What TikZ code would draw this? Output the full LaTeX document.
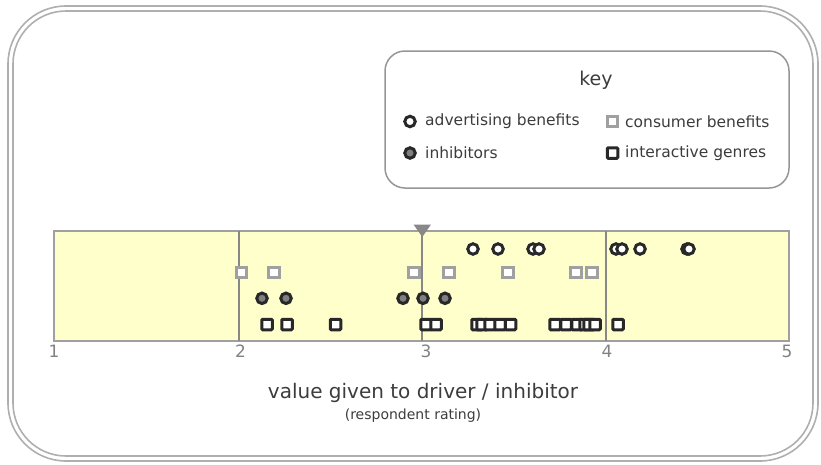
\documentclass[tikz,border=0pt]{standalone}
\usepackage{fontspec}
\setmainfont{DejaVu Sans}
\usetikzlibrary{shapes.geometric}
\definecolor{frameg}{RGB}{175,175,175}
\definecolor{boxg}{RGB}{150,150,150}
\definecolor{plotfill}{RGB}{255,255,204}
\definecolor{gridg}{RGB}{136,136,136}
\definecolor{darkmk}{RGB}{40,40,40}
\definecolor{lightmk}{RGB}{160,160,160}
\definecolor{inhfill}{RGB}{128,128,128}
\definecolor{txt}{RGB}{60,60,60}
\definecolor{ticktxt}{RGB}{130,130,130}
\tikzset{
  mk/.style={inner sep=0pt, minimum size=10.5pt, line width=3pt},
  advmk/.style={mk, circle, draw=darkmk, fill=white},
  conmk/.style={mk, rectangle, draw=lightmk, fill=white},
  inhmk/.style={mk, circle, draw=darkmk, fill=inhfill},
  genmk/.style={mk, rectangle, rounded corners=1pt, draw=darkmk, fill=white},
  keytext/.style={anchor=west, text=txt, font=\fontsize{15.5}{18}\selectfont, inner sep=0pt},
  ticklbl/.style={text=ticktxt, font=\fontsize{17}{19}\selectfont, inner sep=0pt},
}
\begin{document}
\begin{tikzpicture}[x=1pt,y=-1pt]
\useasboundingbox (0,0) rectangle (821,464);
% outer frame, double line
\draw[frameg, line width=1.6pt, rounded corners=58pt] (8,6) rectangle (818,461);
\draw[frameg, line width=1.6pt, rounded corners=53pt] (13,11) rectangle (813,456);
% key box
\draw[boxg, line width=1.5pt, rounded corners=20pt] (385,51) rectangle (789,188);
\node[text=txt, font=\fontsize{19}{21}\selectfont] (keyttl) at (596,80) {key};
\node[advmk] (kadv) at (410,121.5) {};
\node[keytext] (kadvt) at (425,121.5) {advertising benefits};
\node[conmk] (kcon) at (612.5,121.5) {};
\node[keytext] (kcont) at (625,121.5) {consumer benefits};
\node[inhmk] (kinh) at (410,153) {};
\node[keytext] (kinht) at (425,153) {inhibitors};
\node[genmk] (kgen) at (612.5,153) {};
\node[keytext] (kgent) at (625,153) {interactive genres};
% plot area
\draw[gridg!80, line width=2pt, fill=plotfill] (54,231) rectangle (788.5,340.5);
\foreach \gx/\gn in {238.5/two,422.3/three,606/four}
  \draw[gridg, line width=2pt] (\gx,231) -- (\gx,340.5);
\fill[gridg] (413.5,224.5) -- (431,224.5) -- (422.3,237) -- cycle;
% scale values
\node[ticklbl] (t1) at (54,351.5) {1};
\node[ticklbl] (t2) at (240.5,351.5) {2};
\node[ticklbl] (t3) at (426,351.5) {3};
\node[ticklbl] (t4) at (607,351.5) {4};
\node[ticklbl] (t5) at (787,351.5) {5};
% advertising benefits
\foreach \px [count=\i] in {473,498,533,539,616,622,640,687,689}
  \node[advmk] (adv\i) at (\px,249) {};
% consumer benefits
\foreach \px [count=\i] in {241.5,274,414,449,508,576,592}
  \node[conmk] (con\i) at (\px,272.7) {};
% inhibitors
\foreach \px [count=\i] in {262,286,403,423,445}
  \node[inhmk] (inh\i) at (\px,298.3) {};
% interactive genres
\foreach \px [count=\i] in {267,287,335.5,426,436,477,482,490,500,510.5,555,566,577,585,589,595,618}
  \node[genmk] (gen\i) at (\px,324.5) {};
% axis caption
\node[text=txt, font=\fontsize{20}{22}\selectfont] (cap) at (423,393) {value given to driver / inhibitor};
\node[text=txt, font=\fontsize{14}{16}\selectfont] (sub) at (413,415.5) {(respondent rating)};
\end{tikzpicture}
\end{document}
